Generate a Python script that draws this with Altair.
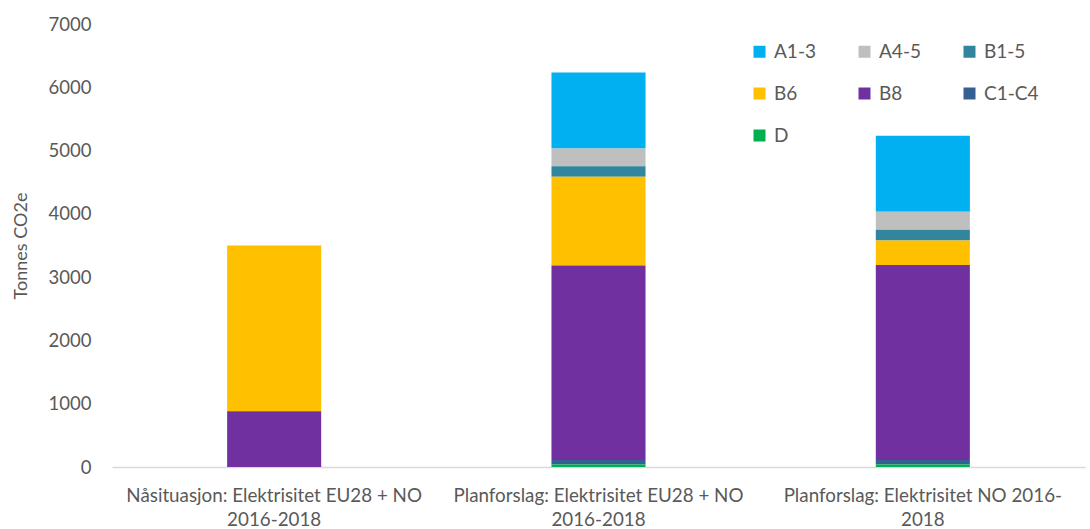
import altair as alt
import pandas as pd

categories = [
    "Nåsituasjon: Elektrisitet EU28 + NO|2016-2018",
    "Planforslag: Elektrisitet EU28 + NO|2016-2018",
    "Planforslag: Elektrisitet NO 2016-|2018",
]
series = ["A1-3", "A4-5", "B1-5", "B6", "B8", "C1-C4", "D"]
colors = ["#00B0F0", "#BFBFBF", "#31859C", "#FFC000", "#7030A0", "#376092", "#00B050"]

values = {
    "A1-3":  [0, 1200, 1200],
    "A4-5":  [0, 280, 285],
    "B1-5":  [0, 168, 170],
    "B6":    [2620, 1400, 390],
    "B8":    [880, 3075, 3080],
    "C1-C4": [0, 70, 70],
    "D":     [0, 40, 40],
}

rows = []
for s in series:
    for c, v in zip(categories, values[s]):
        rows.append({"cat": c, "series": s, "value": v, "ord": len(series) - series.index(s)})
df = pd.DataFrame(rows)

font = "Lato"
grey = "#595959"

chart = alt.Chart(df).mark_bar().encode(
    x=alt.X("cat:N", sort=categories, title=None,
            scale=alt.Scale(paddingInner=0.71, paddingOuter=0.355),
            axis=alt.Axis(labelAngle=0, labelExpr="split(datum.label, '|')",
                          ticks=False, tickSize=0, labelPadding=19,
                          domainColor="#D9D9D9", domainWidth=1.5,
                          labelFontSize=18.8, labelColor=grey, labelFont=font,
                          labelLineHeight=24, labelLimit=400)),
    y=alt.Y("value:Q", title="Tonnes CO2e",
            scale=alt.Scale(domain=[0, 7000]),
            axis=alt.Axis(values=[0, 1000, 2000, 3000, 4000, 5000, 6000, 7000],
                          format="d",
                          grid=False, domain=False, ticks=False, tickSize=0,
                          labelPadding=21, labelFontSize=18.5, labelColor=grey,
                          labelFont=font, titleFont=font, titleFontSize=18,
                          titleFontWeight="normal", titleColor=grey, titlePadding=18)),
    color=alt.Color("series:N", sort=series,
                    scale=alt.Scale(domain=series, range=colors),
                    legend=alt.Legend(title=None, orient="none", legendX=638, legendY=18,
                                      direction="horizontal",
                                      columns=3, columnPadding=39, rowPadding=22,
                                      symbolType="square", symbolSize=144,
                                      symbolStrokeWidth=0, labelFontSize=19,
                                      labelColor=grey, labelFont=font,
                                      symbolOffset=0, labelOffset=5)),
    order=alt.Order("ord:Q", sort="ascending"),
).properties(
    width=973, height=443,
    autosize=alt.AutoSizeParams(type="none"),
    padding={"left": 112, "top": 24, "right": 5, "bottom": 62},
).configure_view(stroke=None)

chart.save("out.html", embed_options={"renderer": "svg", "actions": False})
